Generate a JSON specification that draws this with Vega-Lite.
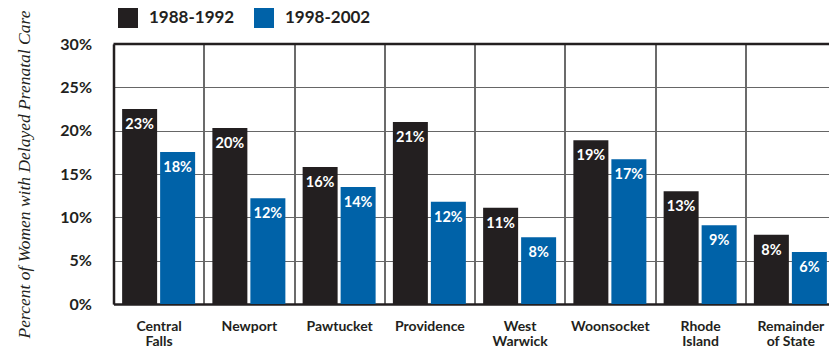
{
  "$schema": "https://vega.github.io/schema/vega-lite/v6.json",
  "width": 715.5,
  "height": 260,
  "autosize": {"type": "none"},
  "padding": {"left": 113.5, "top": 44, "right": 0, "bottom": 49},
  "background": "white",
  "config": {"view": {"stroke": null}, "font": "Lato"},
  "data": {
    "values": [
      {"region": "Central Falls", "period": "1988-1992", "value": 0.225, "label": "23%"},
      {"region": "Central Falls", "period": "1998-2002", "value": 0.1755, "label": "18%"},
      {"region": "Newport", "period": "1988-1992", "value": 0.203, "label": "20%"},
      {"region": "Newport", "period": "1998-2002", "value": 0.122, "label": "12%"},
      {"region": "Pawtucket", "period": "1988-1992", "value": 0.158, "label": "16%"},
      {"region": "Pawtucket", "period": "1998-2002", "value": 0.135, "label": "14%"},
      {"region": "Providence", "period": "1988-1992", "value": 0.21, "label": "21%"},
      {"region": "Providence", "period": "1998-2002", "value": 0.118, "label": "12%"},
      {"region": "West Warwick", "period": "1988-1992", "value": 0.111, "label": "11%"},
      {"region": "West Warwick", "period": "1998-2002", "value": 0.077, "label": "8%"},
      {"region": "Woonsocket", "period": "1988-1992", "value": 0.189, "label": "19%"},
      {"region": "Woonsocket", "period": "1998-2002", "value": 0.167, "label": "17%"},
      {"region": "Rhode Island", "period": "1988-1992", "value": 0.13, "label": "13%"},
      {"region": "Rhode Island", "period": "1998-2002", "value": 0.091, "label": "9%"},
      {"region": "Remainder of State", "period": "1988-1992", "value": 0.08, "label": "8%"},
      {"region": "Remainder of State", "period": "1998-2002", "value": 0.06, "label": "6%"}
    ]
  },
  "encoding": {
    "x": {
      "field": "region",
      "type": "nominal",
      "sort": null,
      "scale": {"range": [0, 722], "paddingInner": 0, "paddingOuter": 0},
      "axis": {
        "title": null,
        "labelAngle": 0,
        "tickBand": "extent",
        "grid": true,
        "gridColor": "#3a3a3a",
        "gridWidth": 1.5,
        "ticks": false,
        "domainColor": "#231f20",
        "domainWidth": 2.5,
        "labelFont": "Lato",
        "labelFontWeight": "bold",
        "labelFontSize": 14,
        "labelColor": "#231f20",
        "labelPadding": 15,
        "labelLineHeight": 15,
        "labelExpr": "datum.label == 'Remainder of State' ? ['Remainder', 'of State'] : split(datum.label, ' ')"
      }
    },
    "xOffset": {
      "field": "period",
      "type": "nominal",
      "scale": {"paddingInner": 0.079, "paddingOuter": 0.227}
    },
    "y": {
      "field": "value",
      "type": "quantitative",
      "scale": {"domain": [0, 0.3], "nice": false},
      "axis": {
        "title": "Percent of Women with Delayed Prenatal Care",
        "format": ".0%",
        "values": [0, 0.05, 0.1, 0.15, 0.2, 0.25, 0.3],
        "grid": true,
        "gridColor": "#666666",
        "gridWidth": 1.2,
        "ticks": false,
        "domainColor": "#231f20",
        "domainWidth": 2.5,
        "labelFont": "Lato",
        "labelFontSize": 16,
        "labelFontWeight": "bold",
        "labelColor": "#231f20",
        "labelPadding": 22,
        "titleFont": "Liberation Serif",
        "titleFontStyle": "italic",
        "titleFontWeight": "normal",
        "titleFontSize": 17.5,
        "titleColor": "#231f20",
        "titlePadding": 26
      }
    }
  },
  "layer": [
    {
      "mark": {"type": "bar"},
      "encoding": {
        "color": {
          "field": "period",
          "type": "nominal",
          "scale": {"domain": ["1988-1992", "1998-2002"], "range": ["#231f20", "#0062a8"]},
          "legend": {
            "title": null,
            "orient": "none",
            "legendX": 4.5,
            "legendY": -36,
            "direction": "horizontal",
            "symbolType": "square",
            "symbolSize": 400,
            "symbolStrokeWidth": 0,
            "symbolOpacity": 1,
            "labelFont": "Lato",
            "labelFontSize": 17,
            "labelFontWeight": "bold",
            "labelColor": "#231f20",
            "labelOffset": 11,
            "columnPadding": 19
          }
        }
      }
    },
    {
      "mark": {"type": "text", "color": "white", "fontWeight": "bold", "fontSize": 14.5, "font": "Lato", "baseline": "middle", "dy": 16},
      "encoding": {"text": {"field": "label"}}
    },
    {
      "data": {"values": [{"top": 0.3}]},
      "mark": {"type": "rule", "color": "#231f20", "strokeWidth": 2.5},
      "encoding": {"y": {"field": "top", "type": "quantitative"}, "x": null, "xOffset": null}
    }
  ]
}
